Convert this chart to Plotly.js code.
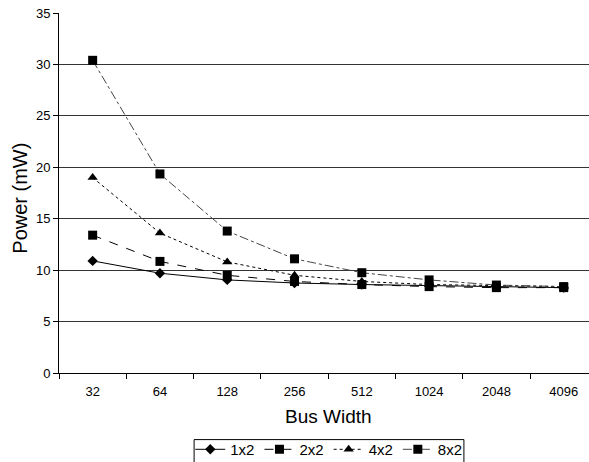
<!DOCTYPE html>
<html>
<head>
<meta charset="utf-8">
<script src="https://cdn.plot.ly/plotly-3.0.1.min.js"></script>
<style>html,body{margin:0;padding:0;background:#fff;}#chart{width:589px;height:462px;}</style>
</head>
<body>
<div id="chart"></div>
<script>
var busWidth = ["32", "64", "128", "256", "512", "1024", "2048", "4096"];
var s1x2 = [10.9, 9.7, 9.05, 8.75, 8.6, 8.5, 8.4, 8.3];
var s2x2 = [13.4, 10.85, 9.5, 8.9, 8.6, 8.4, 8.3, 8.3];
var s4x2 = [19.0, 13.6, 10.8, 9.5, 8.9, 8.6, 8.5, 8.4];
var s8x2 = [30.4, 19.35, 13.8, 11.1, 9.75, 9.05, 8.55, 8.4];
var seriesNames = ["1x2", "2x2", "4x2", "8x2"];

var F = "Liberation Sans, Arial, sans-serif";
function tr(y, name, dash, sym, size, col) {
  return {x: busWidth, y: y, name: name, type: "scatter", mode: "lines+markers",
    line: {color: col, width: 1, dash: dash},
    marker: {symbol: sym, size: size, color: "#000"}};
}
var data = [
  tr(s1x2, seriesNames[0], "solid", "diamond", 8, "#000"),
  tr(s2x2, seriesNames[1], "dash", "square", 9, "#000"),
  tr(s4x2, seriesNames[2], "dot", "triangle-up", 9, "#000"),
  tr(s8x2, seriesNames[3], "dashdot", "square", 9, "#444")
];
var layout = {
  width: 589, height: 462,
  margin: {l: 59, r: 0, t: 13, b: 89, pad: 0, autoexpand: false},
  paper_bgcolor: "#fff", plot_bgcolor: "#fff",
  font: {family: F, color: "#000", size: 13},
  showlegend: true,
  legend: {orientation: "h", x: 0.509, xanchor: "center", y: -0.1668, yanchor: "top",
    bgcolor: "rgba(0,0,0,0)", borderwidth: 0, font: {size: 15, family: F}, itemwidth: 30,
    traceorder: "normal"},
  xaxis: {type: "category", range: [-0.5, 7.376], showline: true, linecolor: "#000", linewidth: 1,
    ticks: "outside", tickson: "boundaries", ticklen: 5, tickcolor: "#000",
    ticklabelstandoff: 6,
    showgrid: false, zeroline: false, tickfont: {size: 13}},
  yaxis: {range: [0, 35], dtick: 5, showline: true, linecolor: "#000", linewidth: 1,
    ticks: "outside", ticklen: 5, tickcolor: "#000", showgrid: true, gridcolor: "#333",
    gridwidth: 1, zeroline: false, tickfont: {size: 13}},
  shapes: [
    {type: "rect", xref: "paper", yref: "paper", x0: 0.2549, x1: 0.764, y0: -0.185, y1: -0.26,
     line: {color: "#000", width: 1}, fillcolor: "rgba(0,0,0,0)", layer: "above"}
  ],
  annotations: [
    {text: "Power (mW)", xref: "paper", yref: "paper", x: -0.0742, y: 0.486,
     xanchor: "center", yanchor: "middle", textangle: -90, showarrow: false,
     font: {size: 20, family: F}},
    {text: "Bus Width", xref: "paper", yref: "paper", x: 0.509, y: -0.121,
     xanchor: "center", yanchor: "middle", showarrow: false, font: {size: 19, family: F}}
  ]
};
Plotly.newPlot("chart", data, layout, {displayModeBar: false, staticPlot: true});
</script>
</body>
</html>
